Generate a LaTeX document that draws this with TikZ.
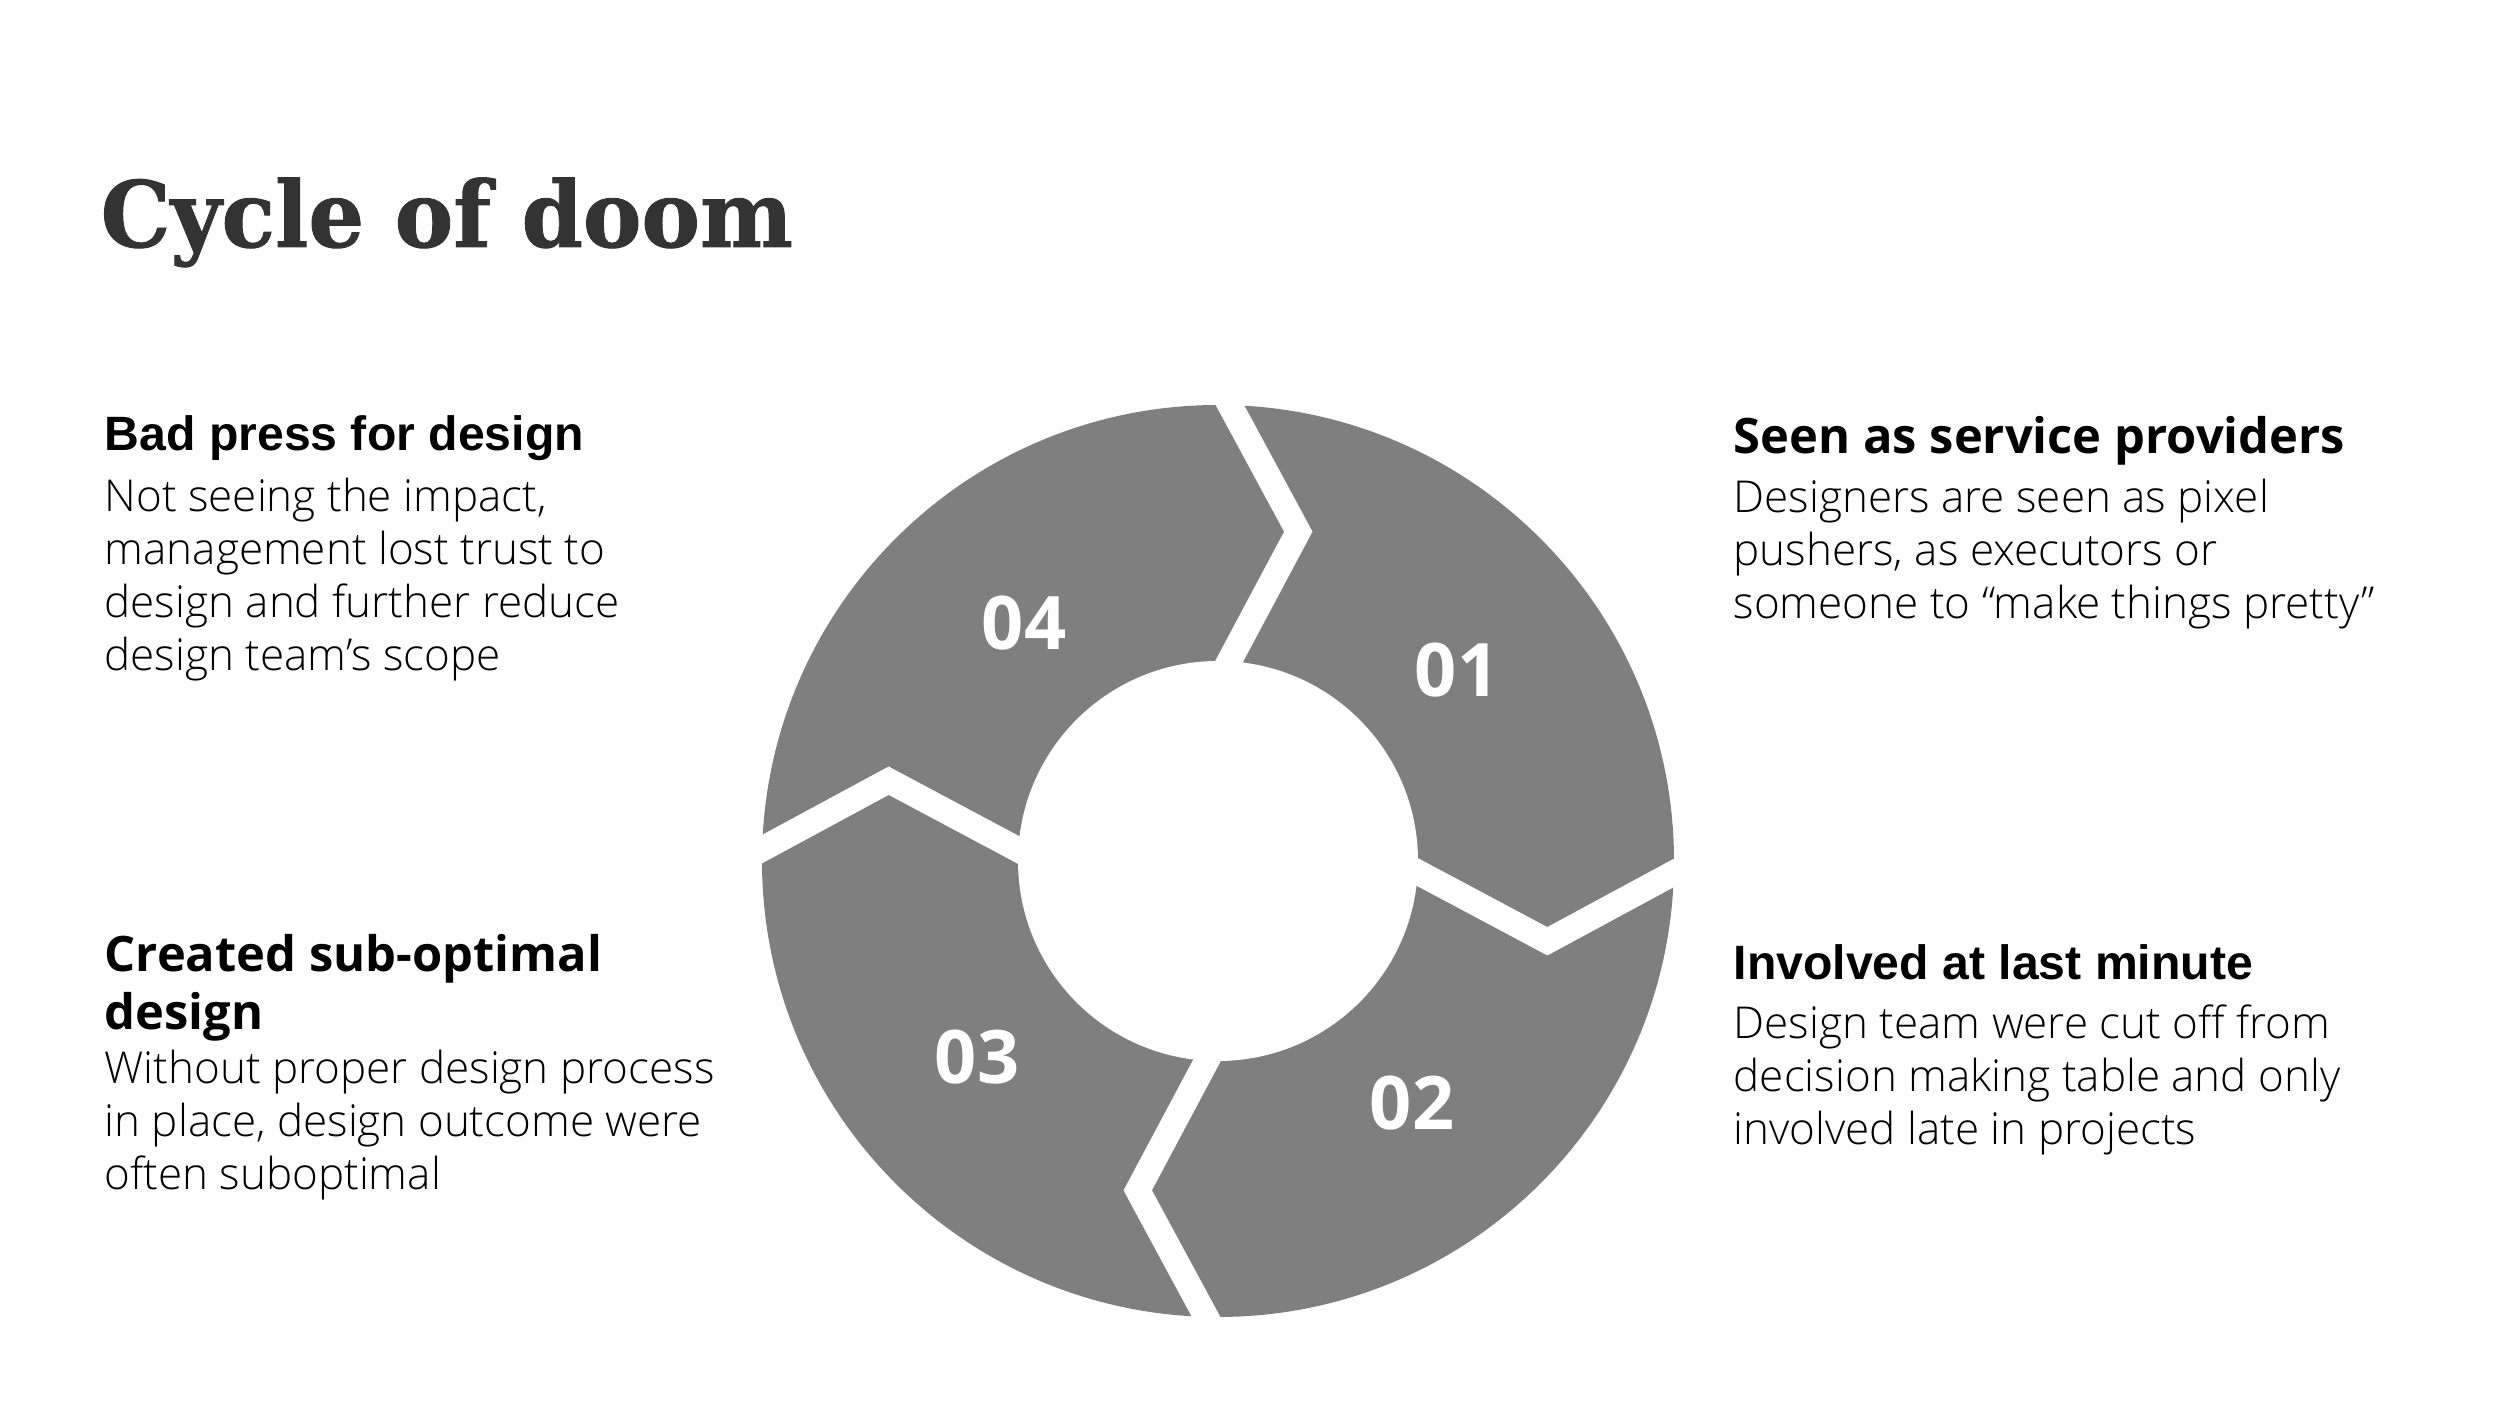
\documentclass[tikz,border=0pt]{standalone}
\usepackage{fontspec}
\usetikzlibrary{calc}
\setmainfont{Open Sans}
\IfFontExistsTF{Open Sans Light}{\newfontfamily\bodyfont{Open Sans Light}}{\newfontfamily\bodyfont{Open Sans}}
\newfontfamily\osfont{Open Sans}
\newfontfamily\arfont{Liberation Sans}
\newfontfamily\titlefont{DejaVu Serif}[FakeStretch=0.96,FakeBold=1]
\definecolor{ringgray}{HTML}{7F7F7F}
\definecolor{titlegray}{HTML}{333333}
\tikzset{
  cut/.style={draw=white, line width=0.25cm, line join=miter, miter limit=20},
  num/.style={text=white, font=\osfont\bfseries\fontsize{21}{25}\selectfont, inner sep=0pt, anchor=center},
  headA/.style={font=\arfont\bfseries\fontsize{13.7}{16.5}\selectfont, anchor=base west, inner sep=0pt, align=left},
  headB/.style={font=\osfont\bfseries\fontsize{13.9}{16.5}\selectfont, anchor=base west, inner sep=0pt, align=left},
  body/.style={font=\bodyfont\fontsize{12.5}{15.16}\selectfont, anchor=base west, inner sep=0pt, align=left},
  ttl/.style={font=\titlefont\bfseries\fontsize{26}{31}\selectfont, text=titlegray, anchor=base west, inner sep=0pt}
}
\begin{document}
\begin{tikzpicture}[x=0.01cm,y=0.01cm]
\useasboundingbox (0,0) rectangle (2500,1406);
\fill[white] (0,0) rectangle (2500,1406);
% title
\node[ttl] (title) at (100,1159) {Cycle of doom};
% ring
\coordinate (c) at (1218,545);
\fill[ringgray] (c) circle (456);
\fill[white] (c) circle (200);
\foreach \k in {0,1,2,3}{
  \pgfmathsetmacro\a{-90*\k}
  \coordinate (o\k) at ($(c)+(88.5+\a:456)$);
  \coordinate (t\k) at ($(c)+(76.3+\a:339)$);
  \coordinate (i\k) at ($(c)+(86.8+\a:200)$);
  \draw[cut] ($(t\k)!1.3!(o\k)$) -- (t\k) -- ($(t\k)!1.3!(i\k)$);
}
\node[num] (n01) at (1457,736) {01};
\node[num] (n02) at (1412,303) {02};
\node[num] (n03) at (977,349) {03};
\node[num] (n04) at (1024,783) {04};
% texts (base anchor = baseline of the last line)
\node[headA] (h4) at (104,955) {Bad press for design};
\node[body] (b4) at (104,735) {Not seeing the impact,\\management lost trust to\\design and further reduce\\design team’s scope};
\node[headB] (h1) at (1733,952) {Seen as service providers};
\node[body] (b1) at (1733,787) {Designers are seen as pixel\\pushers, as executors or\\someone to “make things pretty”};
\node[headB] (h3) at (104,376) {Created sub-optimal\\design};
\node[body] (b3) at (104,216) {Without proper design process\\in place, design outcome were\\often suboptimal};
\node[headA] (h2) at (1733,426) {Involved at last minute};
\node[body] (b2) at (1733,261) {Design team were cut off from\\decision making table and only\\involved late in projects};
\end{tikzpicture}
\end{document}
